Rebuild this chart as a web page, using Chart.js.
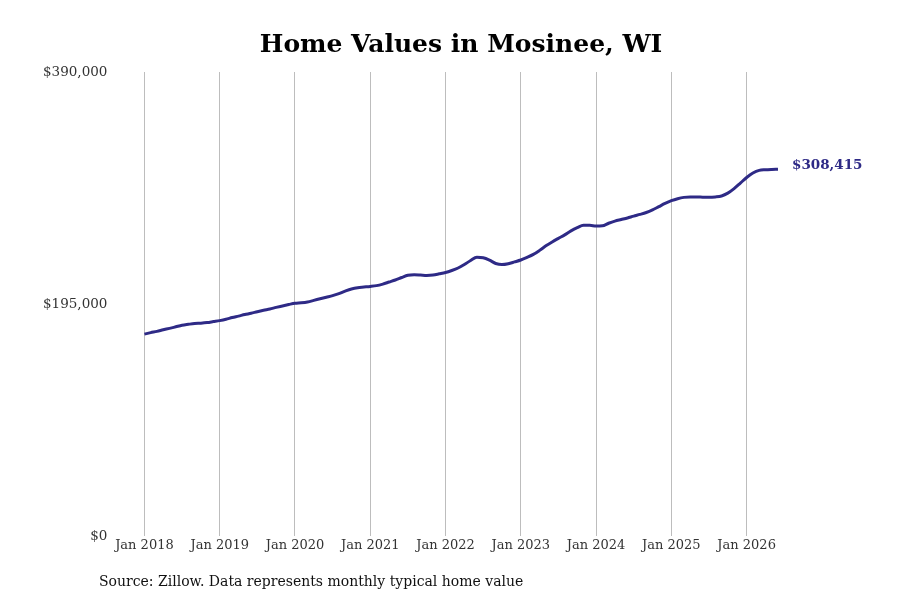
<!DOCTYPE html>
<html>
<head>
<meta charset="utf-8">
<title>Home Values in Mosinee, WI</title>
<script src="https://cdn.jsdelivr.net/npm/chart.js@4/dist/chart.umd.min.js"></script>
<style>
  html, body { margin: 0; padding: 0; background: #fff; }
  #wrap { width: 900px; height: 600px; }
</style>
</head>
<body>
<div id="wrap"><canvas id="wykres" width="900" height="600"></canvas></div>
<script>
// miesiace od Jan 2018 do Jun 2026
const lata = [2018, 2019, 2020, 2021, 2022, 2023, 2024, 2025, 2026];
const miesiace = ["Jan", "Feb", "Mar", "Apr", "May", "Jun", "Jul", "Aug", "Sep", "Oct", "Nov", "Dec"];

// typowa wartosc domu (USD)
const wartosci = [
  169900, 171100, 172200, 173500, 174700, 176000, 177300, 178100, 178800, 179100, 179600, 180400,
  181200, 182300, 183800, 185000, 186300, 187400, 188700, 189900, 191000, 192300, 193500, 194700,
  195800, 196200, 196900, 198200, 199600, 200900, 202200, 203900, 206000, 207800, 208900, 209400,
  209900, 210600, 211900, 213600, 215300, 217400, 219300, 219700, 219500, 219200, 219500, 220500,
  221600, 223300, 225400, 228300, 231700, 234400, 234000, 232000, 229200, 228300, 229000, 230500,
  232100, 234300, 236800, 240200, 244000, 247300, 250300, 253200, 256600, 259300, 261300, 261300,
  260600, 260800, 263000, 264800, 266100, 267400, 269000, 270400, 272000, 274200, 276900, 279600,
  281900, 283600, 284700, 285100, 285100, 284900, 284800, 285100, 285900, 288300, 292100, 296700,
  301400, 305200, 307400, 307900, 308200, 308415
];

const osYTicki = [0, 195000, 390000];

const etykiety = [];
for (let i = 0; i < wartosci.length; i++) {
  etykiety.push(miesiace[i % 12] + " " + lata[Math.floor(i / 12)]);
}

const kolorLinii = "#2e2a86";

function formatujDolary(v) {
  return "$" + Math.round(v).toLocaleString("en-US");
}

// tytul, podpis ostatniej wartosci i zrodlo
const dodatkiPlugin = {
  id: "dodatki",
  afterDraw(chart) {
    const ctx = chart.ctx;
    const meta = chart.getDatasetMeta(0);
    const ost = meta.data[meta.data.length - 1];
    ctx.save();
    ctx.fillStyle = "#000";
    ctx.font = "bold 25px 'DejaVu Serif'";
    ctx.textAlign = "center";
    ctx.textBaseline = "middle";
    ctx.fillText("Home Values in Mosinee, WI", 461, 45);

    ctx.fillStyle = kolorLinii;
    ctx.font = "bold 13.5px 'DejaVu Serif'";
    ctx.textAlign = "left";
    ctx.fillText(formatujDolary(wartosci[wartosci.length - 1]), ost.x + 14, ost.y - 4);

    ctx.fillStyle = "#111";
    ctx.font = "14px 'DejaVu Serif'";
    ctx.fillText("Source: Zillow. Data represents monthly typical home value", 99, 582);
    ctx.restore();
  }
};

new Chart(document.getElementById("wykres"), {
  type: "line",
  data: {
    labels: etykiety,
    datasets: [
      {
        data: wartosci,
        borderColor: kolorLinii,
        borderWidth: 3,
        pointRadius: 0,
        cubicInterpolationMode: "monotone",
        fill: false,
      },
    ],
  },
  options: {
    responsive: false,
    animation: false,
    layout: {
      padding: { left: 6, right: 122, bottom: 46, top: 72 },
    },
    plugins: {
      legend: { display: false },
      tooltip: { enabled: false },
      title: { display: false },
    },
    scales: {
      x: {
        type: "category",
        border: { display: false },
        grid: {
          drawTicks: false,
          color: (c) => (c.index % 12 === 0 ? "#bdbdbd" : "rgba(0,0,0,0)"),
          lineWidth: 1,
        },
        ticks: {
          autoSkip: false,
          maxRotation: 0,
          padding: 1,
          color: "#333",
          font: { family: "'DejaVu Serif'", size: 13 },
          callback: function (value, index) {
            return index % 12 === 0 ? etykiety[index] : "";
          },
        },
      },
      y: {
        min: 0,
        max: 390000,
        border: { display: false },
        grid: { display: false, drawTicks: false },
        afterBuildTicks: (axis) => {
          axis.ticks = osYTicki.map((v) => ({ value: v }));
        },
        ticks: {
          padding: 37,
          color: "#333",
          font: { family: "'DejaVu Serif'", size: 13.5 },
          callback: (v) => formatujDolary(v),
        },
      },
    },
  },
  plugins: [dodatkiPlugin],
});
</script>
</body>
</html>
